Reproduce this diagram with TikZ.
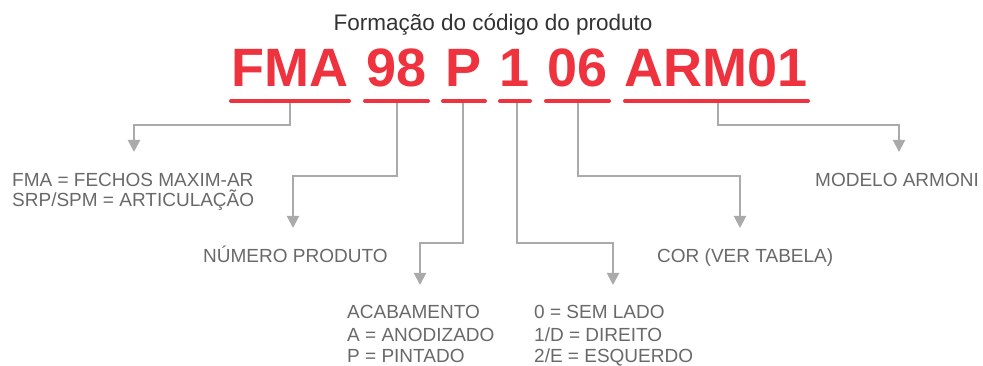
\documentclass[tikz,border=0pt]{standalone}
\usepackage{fontspec}
\setmainfont{Liberation Sans}
\usetikzlibrary{arrows.meta}
\definecolor{codered}{RGB}{238,50,62}
\definecolor{linegray}{RGB}{170,170,170}
\definecolor{labelgray}{RGB}{105,105,105}
\definecolor{titlegray}{RGB}{51,51,51}
\tikzset{
  codetext/.style={anchor=base, inner sep=0pt, text=codered, font=\fontsize{54}{60}\selectfont\bfseries},
  uline/.style={draw=codered, line width=4pt, line cap=round},
  conn/.style={draw=linegray, line width=2pt, -{Triangle[length=12pt,width=12pt]}},
  lbl/.style={anchor=base west, inner sep=0pt, text=labelgray, font=\fontsize{19}{21}\selectfont},
  titletext/.style={anchor=base, inner sep=0pt, text=titlegray, font=\fontsize{22.5}{24}\selectfont}
}
\begin{document}
\begin{tikzpicture}[x=1pt,y=-1pt]
\useasboundingbox[fill=white] (0,0) rectangle (983,366);
\node[titletext] (title) at (493,31) {Formação do código do produto};
% code segments
\node[codetext] (cFMA) at (290,87) {FMA};
\node[codetext] (c98) at (396.5,87) {98};
\node[codetext] (cP) at (464,87) {P};
\node[codetext] (c1) at (515,87) {1};
\node[codetext] (c06) at (577.5,87) {06};
\node[codetext] (cARM) at (716.5,87) {ARM01};
% underlines
\draw[uline] (231,101) -- (349,101);
\draw[uline] (365,101) -- (428,101);
\draw[uline] (443,101) -- (485,101);
\draw[uline] (500,101) -- (530,101);
\draw[uline] (546,101) -- (609,101);
\draw[uline] (625,101) -- (808,101);
% connector starts
\coordinate (sFMA) at (290,103);
\coordinate (s98) at (397,103);
\coordinate (sP) at (463,103);
\coordinate (s1) at (517,103);
\coordinate (s06) at (578,103);
\coordinate (sARM) at (718,103);
% arrow tips
\coordinate (tFMA) at (134,152);
\coordinate (t98) at (293,228);
\coordinate (tP) at (420,285);
\coordinate (t1) at (613,285);
\coordinate (t06) at (740,228);
\coordinate (tARM) at (899,152);
% labels
\node[lbl] (lFMA) at (12,187) {FMA = FECHOS MAXIM-AR};
\node[lbl] (lFMAb) at (12,207) {SRP/SPM = ARTICULAÇÃO};
\node[lbl] (l98) at (203,263) {NÚMERO PRODUTO};
\node[lbl] (lP) at (347,319) {ACABAMENTO};
\node[lbl] (lPb) at (347,341) {A = ANODIZADO};
\node[lbl] (lPc) at (347,362) {P = PINTADO};
\node[lbl] (l1) at (534,319) {0 = SEM LADO};
\node[lbl] (l1b) at (534,341) {1/D = DIREITO};
\node[lbl] (l1c) at (534,362) {2/E = ESQUERDO};
\node[lbl] (l06) at (657,263) {COR (VER TABELA)};
\node[lbl] (lARM) at (815,187) {MODELO ARMONI};
% connectors
\draw[conn] (sFMA) |- (134,125) -- (tFMA);
\draw[conn] (s98) |- (293,176) -- (t98);
\draw[conn] (sP) |- (420,243) -- (tP);
\draw[conn] (s1) |- (613,243) -- (t1);
\draw[conn] (s06) |- (740,176) -- (t06);
\draw[conn] (sARM) |- (899,125) -- (tARM);
\end{tikzpicture}
\end{document}
